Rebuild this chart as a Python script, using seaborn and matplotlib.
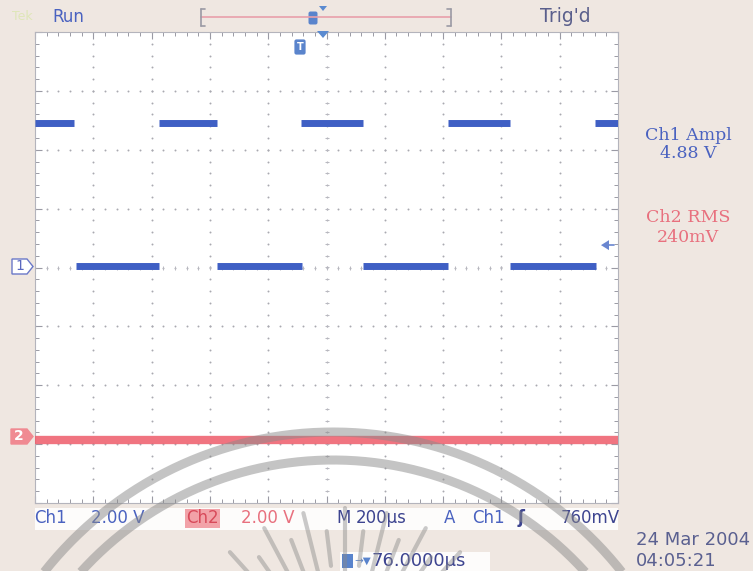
import numpy as np
import pandas as pd
import matplotlib
matplotlib.use("Agg")
import matplotlib.pyplot as plt
import seaborn as sns
from matplotlib.patches import Polygon, FancyBboxPatch, Rectangle

# ---------------- data ----------------
time_per_div_us = 200
ch1_volts_per_div = 2.0
ch2_volts_per_div = 2.0
ch2_offset_div = -2.9

ch1_seg_start_us = [0, 139, 425, 623, 914, 1126, 1417, 1628, 1920]
ch1_seg_end_us = [134, 427, 623, 916, 1126, 1417, 1628, 1923, 2000]
ch1_seg_level_v = [4.92, 0.04, 4.92, 0.04, 4.92, 0.04, 4.92, 0.04, 4.92]

ch2_seg_start_us = [0]
ch2_seg_end_us = [2000]
ch2_seg_level_v = [-0.06]

ch1_ampl_lines = ["Ch1 Ampl", "4.88 V"]
ch2_rms_lines = ["Ch2 RMS", "240mV"]
trigger_level_v = 0.76

# ---------------- build tables ----------------
rows = []
for i, (s, e, v) in enumerate(zip(ch1_seg_start_us, ch1_seg_end_us, ch1_seg_level_v)):
    rows += [dict(t=s, y=v, seg=i), dict(t=e, y=v, seg=i)]
df1 = pd.DataFrame(rows)
rows = []
for i, (s, e, v) in enumerate(zip(ch2_seg_start_us, ch2_seg_end_us, ch2_seg_level_v)):
    y = ch2_offset_div * ch1_volts_per_div + v * ch1_volts_per_div / ch2_volts_per_div
    rows += [dict(t=s, y=y, seg=i), dict(t=e, y=y, seg=i)]
df2 = pd.DataFrame(rows)

sns.set_theme(style="white")
plt.rcParams['font.family'] = ['DejaVu Sans']

W, H = 753, 571
fig = plt.figure(figsize=(W / 100, H / 100), dpi=100)
BG = "#efe7e1"
fig.patch.set_facecolor(BG)

L, R, T, B = 35, 618, 32, 503
ax = fig.add_axes([L / W, 1 - B / H, (R - L) / W, (B - T) / H])
ax.set_facecolor("white")

ax.set_xlim(0, 10 * time_per_div_us)
ax.set_ylim(-4 * ch1_volts_per_div, 4 * ch1_volts_per_div)

# graticule dots
dot_c = "#a9a9b0"
for gx in np.arange(1, 10) * time_per_div_us:
    ys = np.arange(-4, 4.01, 0.2) * ch1_volts_per_div
    ax.plot(np.full_like(ys, gx), ys, ls="none", marker="o", ms=1.4, color=dot_c, mew=0, zorder=1)
for gy in np.arange(-3, 4) * ch1_volts_per_div:
    xs = np.arange(0, 10.01, 0.2) * time_per_div_us
    ax.plot(xs, np.full_like(xs, gy), ls="none", marker="o", ms=1.4, color=dot_c, mew=0, zorder=1)
# center cross ticks
xs = np.arange(0, 10.01, 0.2) * time_per_div_us
ax.plot(xs, np.zeros_like(xs), ls="none", marker="|", ms=3, color="#b8b8c0", mew=0.7, zorder=1)
ys = np.arange(-4, 4.01, 0.2) * ch1_volts_per_div
ax.plot(np.full_like(ys, 5 * time_per_div_us), ys, ls="none", marker="_", ms=3, color="#b8b8c0", mew=0.7, zorder=1)

ax.set_xticks(np.arange(0, 11) * time_per_div_us)
ax.set_xticks(np.arange(0, 10.01, 0.2) * time_per_div_us, minor=True)
ax.set_yticks(np.arange(-4, 5) * ch1_volts_per_div)
ax.set_yticks(np.arange(-4, 4.01, 0.2) * ch1_volts_per_div, minor=True)
ax.tick_params(which="both", direction="in", top=True, bottom=True, left=True, right=True,
               labelbottom=False, labelleft=False, color="#9a9aa4")
ax.tick_params(which="major", length=5, width=0.8)
ax.tick_params(which="minor", length=3, width=0.7)
for sp in ax.spines.values():
    sp.set_color("#b4b4bc")
    sp.set_linewidth(0.8)
    sp.set_visible(True)

# traces
sns.lineplot(data=df2, x="t", y="y", units="seg", estimator=None, ax=ax,
             color="#ee5c6a", lw=6.0, alpha=0.85, solid_capstyle="butt", zorder=3)
sns.lineplot(data=df1, x="t", y="y", units="seg", estimator=None, ax=ax,
             color="#3f5fc4", lw=5.0, solid_capstyle="butt", zorder=4)
ax.set_xlabel("")
ax.set_ylabel("")
if ax.get_legend():
    ax.get_legend().remove()

blue = "#4a62c0"
red = "#e8707e"
navy = "#3d4490"

# ---------------- overlay (markers, texts, watermark) ----------------
ov = fig.add_axes([0, 0, 1, 1], zorder=5)
ov.set_xlim(0, W)
ov.set_ylim(H, 0)
ov.axis("off")
ov.patch.set_alpha(0)

# channel ground markers
ov.add_patch(Polygon([[12, 259], [27, 259], [33, 266.5], [27, 274], [12, 274]], closed=True,
                     fc="white", ec="#6a78c8", lw=1.0))
ov.text(19.5, 266.5, "1", color="#5a68c0", fontsize=10, ha="center", va="center")
ov.add_patch(Polygon([[11, 429], [27, 429], [33, 436.5], [27, 444], [11, 444]], closed=True,
                     fc="#f08a92", ec="#f08a92", lw=1.0))
ov.text(19, 436.5, "2", color="white", fontsize=10, ha="center", va="center", fontweight="bold")

# trigger level arrow
ty = (T + B) / 2 - trigger_level_v / ch1_volts_per_div * (B - T) / 8
ov.add_patch(Polygon([[601, ty], [609, ty - 5], [609, ty + 5]], closed=True, fc="#6a86d0", ec="none"))
ov.plot([608, 614], [ty, ty], color="#6a86d0", lw=1.2)

# trigger position marker
ov.add_patch(Polygon([[317, 31], [329, 31], [323, 38]], closed=True, fc="#5a8ad0", ec="none"))
ov.add_patch(FancyBboxPatch((295, 40), 10, 14, boxstyle="round,pad=0.6,rounding_size=2",
                            fc="#5a84cc", ec="none"))
ov.text(300, 47, "T", color="white", fontsize=7, ha="center", va="center", fontweight="bold")

# top bar
ov.text(12, 17, "Tek", color="#dfe6b8", fontsize=9, ha="left", va="center")
ov.text(52, 17, "Run", color=blue, fontsize=12, ha="left", va="center")
ov.plot([201, 451], [17, 17], color="#e8a0aa", lw=1.2)
for xx, d in ((201, 4), (451, -4)):
    ov.plot([xx, xx], [9, 26], color="#9a9aa4", lw=1.2)
    ov.plot([xx, xx + d], [9, 9], color="#9a9aa4", lw=1.2)
    ov.plot([xx, xx + d], [26, 26], color="#9a9aa4", lw=1.2)
ov.add_patch(FancyBboxPatch((309, 12), 8, 12, boxstyle="round,pad=0.5,rounding_size=2",
                            fc="#5a84cc", ec="none"))
ov.add_patch(Polygon([[319, 6], [327, 6], [323, 11]], closed=True, fc="#5a8ad0", ec="none"))
ov.text(540, 17, "Trig'd", color="#5a5f8c", fontsize=13.5, ha="left", va="center")

# measurement readouts
mfs = 12.5
ov.text(688, 135, ch1_ampl_lines[0], color=blue, fontsize=mfs, ha="center", va="center", family="DejaVu Serif")
ov.text(688, 154, ch1_ampl_lines[1], color=blue, fontsize=mfs, ha="center", va="center", family="DejaVu Serif")
ov.text(688, 218, ch2_rms_lines[0], color=red, fontsize=mfs, ha="center", va="center", family="DejaVu Serif")
ov.text(688, 237, ch2_rms_lines[1], color=red, fontsize=mfs, ha="center", va="center", family="DejaVu Serif")

# bottom status bar
ov.add_patch(Rectangle((35, 508), 583, 22, fc="white", ec="none", alpha=0.9))
fs = 12
yb = 518
ov.text(34, yb, "Ch1", color=blue, fontsize=fs, ha="left", va="center")
ov.text(91, yb, "2.00 V", color=blue, fontsize=fs, ha="left", va="center")
ov.add_patch(Rectangle((185, 509), 35, 19, fc="#f2a2a8", ec="none"))
ov.text(202.5, yb, "Ch2", color="#d84a5a", fontsize=fs, ha="center", va="center")
ov.text(241, yb, "2.00 V", color=red, fontsize=fs, ha="left", va="center")
ov.text(336, yb, "M", color=navy, fontsize=fs, ha="left", va="center")
ov.text(356, yb, "200µs", color=navy, fontsize=fs, ha="left", va="center")
ov.text(444, yb, "A", color=blue, fontsize=fs, ha="left", va="center")
ov.text(472, yb, "Ch1", color=blue, fontsize=fs, ha="left", va="center")
ov.text(518, yb, "ʃ", color=navy, fontsize=fs, ha="left", va="center", fontweight="bold")
ov.text(620, yb, "760mV", color=navy, fontsize=fs, ha="right", va="center")

ov.add_patch(Rectangle((340, 552), 150, 19, fc="white", ec="none", alpha=0.9))
ov.add_patch(Rectangle((342, 554), 11, 14, fc="#5a84cc", ec="none"))
ov.text(354, 561, "→▼", color="#5a84cc", fontsize=7.5, ha="left", va="center")
ov.text(372, 561, "76.0000µs", color=navy, fontsize=13, ha="left", va="center")

ov.text(636, 540, "24 Mar 2004", color="#5a6090", fontsize=13, ha="left", va="center")
ov.text(636, 561, "04:05:21", color="#5a6090", fontsize=13, ha="left", va="center")

# watermark (seal) arcs and rays
cx, cy = 333, 800
for rad in (368, 340):
    a = np.linspace(np.pi * 1.05, np.pi * 1.95, 400)
    ov.plot(cx + rad * np.cos(a), cy + rad * np.sin(a), color="#8a8a8a", lw=6.5, alpha=0.5,
            solid_capstyle="butt", zorder=6)
rcx, rcy = 345, 680
for k, ang in enumerate(np.linspace(200, 340, 21)):
    a = np.deg2rad(ang)
    r0 = 100 if k % 2 == 0 else 115
    r1 = 172 if k % 2 == 0 else 150
    ov.plot([rcx + r0 * np.cos(a), rcx + r1 * np.cos(a)],
            [rcy + r0 * np.sin(a), rcy + r1 * np.sin(a)],
            color="#8a8a8a", lw=3, alpha=0.45, solid_capstyle="round", zorder=6)

fig.savefig("out.png", dpi=100, facecolor=BG)
